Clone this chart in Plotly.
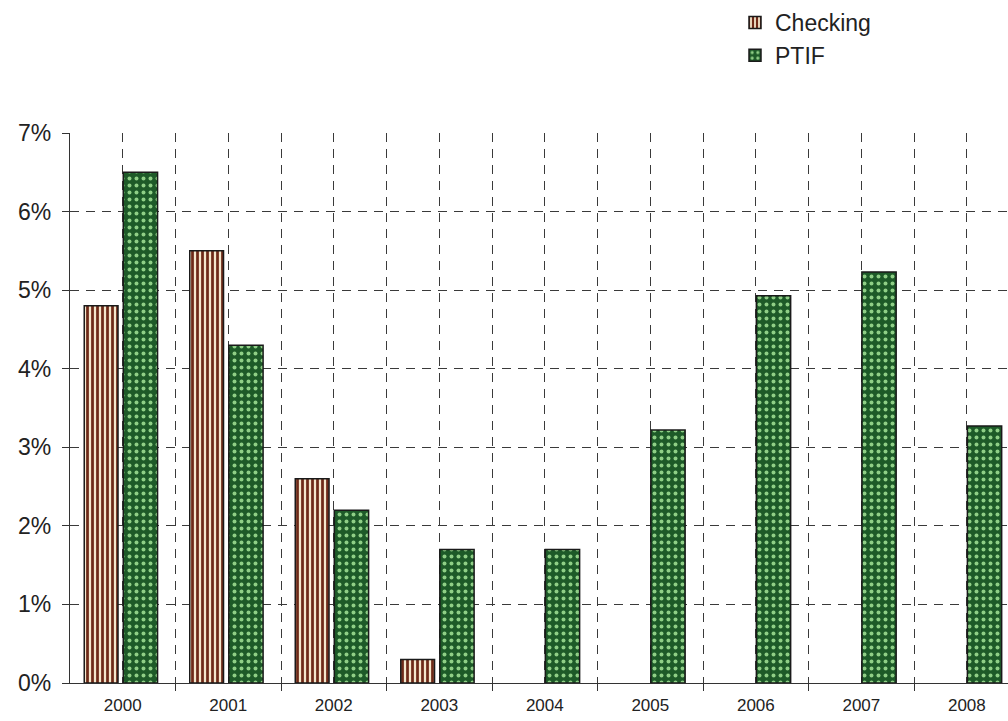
import plotly.graph_objects as go

# Annual rates by fund, in percent
years = ["2000", "2001", "2002", "2003", "2004", "2005", "2006", "2007", "2008"]
checking = [4.8, 5.5, 2.6, 0.3, None, None, None, None, None]
ptif = [6.5, 4.3, 2.2, 1.7, 1.7, 3.22, 4.93, 5.23, 3.27]
y_ticks = [0, 1, 2, 3, 4, 5, 6, 7]

pos = list(range(len(years)))
grid_col = "#3a3a3a"
font_family = "Liberation Sans, Arial, sans-serif"

fig = go.Figure()
fig.add_trace(go.Bar(
    name="Checking", x=pos, y=checking,
    width=0.32, offset=-0.365,
    marker=dict(
        color="#f4e7cc",
        line=dict(color="#1a1a1a", width=1.5),
        pattern=dict(shape="|", fgcolor="#6e2a18", bgcolor="#f4e7cc",
                     size=5, solidity=0.55, fillmode="replace"),
    ),
))
fig.add_trace(go.Bar(
    name="PTIF", x=pos, y=ptif,
    width=0.325, offset=0.005,
    marker=dict(
        color="#1d5a28",
        line=dict(color="#1a1a1a", width=1.5),
        pattern=dict(shape=".", fgcolor="#8fcf86", bgcolor="#1d5a28",
                     size=7, solidity=0.25, fillmode="replace"),
    ),
))

fig.update_layout(
    width=1008, height=721,
    margin=dict(l=70, r=0, t=133, b=38, autoexpand=False),
    paper_bgcolor="white", plot_bgcolor="white",
    barmode="overlay",
    font=dict(family=font_family, color="#222222"),
    showlegend=True,
    legend=dict(
        xref="container", yref="container",
        x=735 / 1008, y=1 - 1 / 721, xanchor="left", yanchor="top",
        font=dict(size=23, family=font_family, color="#222222"),
        bgcolor="rgba(0,0,0,0)", tracegroupgap=0, itemwidth=30,
    ),
    xaxis=dict(
        range=[-0.5, 8.39],
        tickmode="array", tickvals=pos, ticktext=years,
        ticks="", tickfont=dict(size=17), ticklabelstandoff=6,
        showgrid=True, gridcolor=grid_col, gridwidth=1.2, griddash="9px,7px",
        showline=True, linecolor="#333333", linewidth=1.3,
        zeroline=False, fixedrange=True,
        minor=dict(
            tickmode="array", tickvals=[p + 0.5 for p in pos],
            ticks="outside", ticklen=7, tickcolor="#333333", tickwidth=1.2,
            showgrid=True, gridcolor=grid_col, gridwidth=1.2, griddash="9px,7px",
        ),
    ),
    yaxis=dict(
        range=[0, 7],
        tickmode="array", tickvals=y_ticks, ticktext=[f"{v}%" for v in y_ticks],
        ticks="outside", ticklen=7, tickcolor="#333333", tickwidth=1.2,
        tickfont=dict(size=23), ticklabelstandoff=6,
        showgrid=True, gridcolor=grid_col, gridwidth=1.2, griddash="9px,7px",
        showline=True, linecolor="#333333", linewidth=1.3,
        zeroline=False, fixedrange=True,
    ),
)

fig.write_html("out.html")
